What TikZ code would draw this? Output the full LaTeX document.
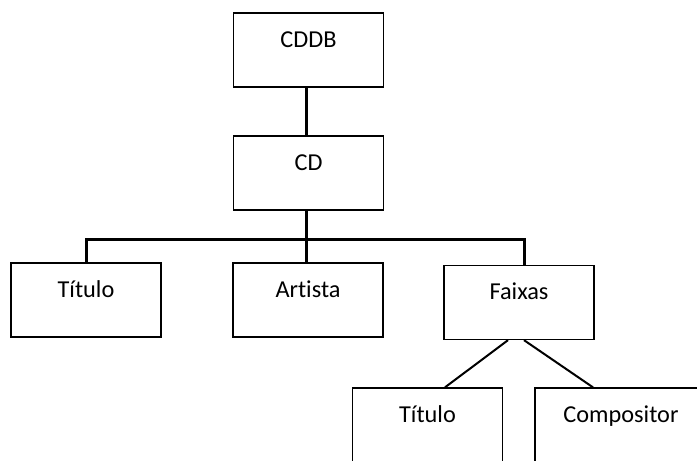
\documentclass[tikz,border=0pt]{standalone}
\usepackage{fontspec}
\setmainfont[Ligatures={NoCommon,NoRare,NoContextual}]{Carlito}
\begin{document}
\begin{tikzpicture}[x=1pt,y=-1pt,
  box/.style={draw,line width=1.3pt,rectangle,inner sep=0pt,
    minimum width=150pt,text height=34pt,text depth=40pt},
  bar/.style={line width=3pt},
  twig/.style={line width=2pt}]
\useasboundingbox (0,0) rectangle (697,461);
\clip (0,0) rectangle (697,461);
\fontsize{24.3}{29}\selectfont

\node[box] (cddb) at (308.5,50) {CDDB};
\node[box] (cd) at (308.5,173) {CD};

\node[box] (titulo) at (86,300) {Título};
\node[box] (artista) at (308,300) {Artista};
\node[box] (faixas) at (519,302.5) {Faixas};

\node[box] (titulo2) at (427.5,425) {Título};
\node[box,minimum width=172pt] (compositor) at (621,425) {Compositor};

\coordinate (joint) at (306,239);

\draw[bar] (cddb.south -| joint) -- (cd.north -| joint);
\draw[bar] (cd.south -| joint) -- (artista.north -| joint);
\draw[bar] (titulo.north) |- (joint) -| ([xshift=5pt]faixas.north);

\draw[twig] ([xshift=-11pt]faixas.south) -- ([xshift=17.5pt]titulo2.north);
\draw[twig] ([xshift=5pt]faixas.south) -- ([xshift=-28pt]compositor.north);
\end{tikzpicture}
\end{document}
